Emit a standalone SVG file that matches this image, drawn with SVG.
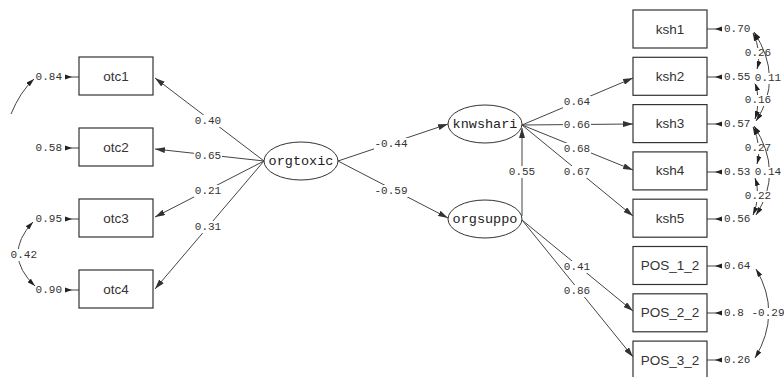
<svg xmlns="http://www.w3.org/2000/svg" width="784" height="377" viewBox="0 0 784 377">
<style>
.box{fill:#fff;stroke:#333;stroke-width:1.2}
.ell{fill:#fff;stroke:#333;stroke-width:1}
.bt{font-family:"Liberation Sans",Arial,sans-serif;font-size:13.5px;fill:#333;text-anchor:middle;dominant-baseline:central}
.et{font-family:"Liberation Mono","Courier New",monospace;font-size:13.5px;fill:#222;text-anchor:middle;dominant-baseline:central}
.num{font-family:"Liberation Mono","Courier New",monospace;font-size:11px;fill:#333;dominant-baseline:central}
.mid{text-anchor:middle}
.end{text-anchor:end}
.p{fill:none;stroke:#444;stroke-width:1}
.c{fill:none;stroke:#444;stroke-width:1}
.bg{fill:#fff}
</style>
<defs>
<marker id="ah" viewBox="0 0 10 6" refX="10" refY="3" markerWidth="10" markerHeight="6" markerUnits="userSpaceOnUse" orient="auto"><path d="M0,0 L10,3 L0,6 z" fill="#333"/></marker>
<marker id="ah2" viewBox="0 0 8 5" refX="8" refY="2.5" markerWidth="8" markerHeight="5" markerUnits="userSpaceOnUse" orient="auto-start-reverse"><path d="M0,0 L8,2.5 L0,5 z" fill="#222"/></marker>
<marker id="ew" viewBox="0 -3 8 6" refX="0" refY="0" markerWidth="8" markerHeight="6" markerUnits="userSpaceOnUse" orient="auto"><path d="M0,-2.5 L7,0 L0,2.5 z" fill="#222"/></marker>
</defs>
<rect width="784" height="377" fill="#fff"/>

<g id="connectors">
  <!-- orgtoxic to otc -->
  <path class="p" d="M264,161 L155,78" marker-end="url(#ah)"/>
  <rect class="bg" x="194" y="115" width="28" height="12"/><text class="num mid" x="208" y="121">0.40</text>
  <path class="p" d="M264,161 L155,149" marker-end="url(#ah)"/>
  <rect class="bg" x="194" y="150" width="28" height="12"/><text class="num mid" x="208" y="156">0.65</text>
  <path class="p" d="M264,161 L155,217" marker-end="url(#ah)"/>
  <rect class="bg" x="194" y="185" width="28" height="12"/><text class="num mid" x="208" y="191">0.21</text>
  <path class="p" d="M264,161 L155,289" marker-end="url(#ah)"/>
  <rect class="bg" x="194" y="221" width="28" height="12"/><text class="num mid" x="208" y="227">0.31</text>

  <!-- structural -->
  <path class="p" d="M338,161 L448,124" marker-end="url(#ah)"/>
  <rect class="bg" x="374" y="138" width="34" height="12"/><text class="num mid" x="391" y="144">-0.44</text>
  <path class="p" d="M338,161 L448,218" marker-end="url(#ah)"/>
  <rect class="bg" x="374" y="185" width="34" height="12"/><text class="num mid" x="391" y="191">-0.59</text>
  <path class="p" d="M522,216 L522,128" marker-end="url(#ah)"/>
  <rect class="bg" x="508" y="166" width="28" height="12"/><text class="num mid" x="522" y="172">0.55</text>

  <!-- knwshari to ksh -->
  <path class="p" d="M522,125 L633,78" marker-end="url(#ah)"/>
  <rect class="bg" x="563" y="96" width="28" height="12"/><text class="num mid" x="577" y="102">0.64</text>
  <path class="p" d="M522,125 L633,124" marker-end="url(#ah)"/>
  <rect class="bg" x="563" y="119" width="28" height="12"/><text class="num mid" x="577" y="125">0.66</text>
  <path class="p" d="M522,125 L633,170" marker-end="url(#ah)"/>
  <rect class="bg" x="563" y="143" width="28" height="12"/><text class="num mid" x="577" y="149">0.68</text>
  <path class="p" d="M522,125 L633,216" marker-end="url(#ah)"/>
  <rect class="bg" x="563" y="166" width="28" height="12"/><text class="num mid" x="577" y="172">0.67</text>

  <!-- orgsuppo to POS -->
  <path class="p" d="M522,220 L633,311" marker-end="url(#ah)"/>
  <rect class="bg" x="563" y="261" width="28" height="12"/><text class="num mid" x="577" y="267">0.41</text>
  <path class="p" d="M522,220 L633,357" marker-end="url(#ah)"/>
  <rect class="bg" x="563" y="285" width="28" height="12"/><text class="num mid" x="577" y="291">0.86</text>

  <!-- left error arrows -->
  <path class="p" d="M65,77 L79,77" marker-start="url(#ew)"/>
  <path class="p" d="M65,148 L79,148" marker-start="url(#ew)"/>
  <path class="p" d="M65,219 L79,219" marker-start="url(#ew)"/>
  <path class="p" d="M65,290 L79,290" marker-start="url(#ew)"/>
  <text class="num end" x="62" y="77">0.84</text>
  <text class="num end" x="62" y="148">0.58</text>
  <text class="num end" x="62" y="219">0.95</text>
  <text class="num end" x="62" y="290">0.90</text>

  <!-- left covariances -->
  <path class="c" d="M11,114 Q20,92 34,79" marker-end="url(#ah2)"/>
  <path class="c" d="M33,222 Q2,255 35,286" marker-start="url(#ah2)" marker-end="url(#ah2)"/>
  <rect class="bg" x="10" y="249" width="28" height="12"/><text class="num end" x="37" y="255">0.42</text>

  <!-- right error arrows -->
  <path class="p" d="M722,29 L707,29" marker-start="url(#ew)"/>
  <path class="p" d="M722,77 L707,77" marker-start="url(#ew)"/>
  <path class="p" d="M722,124 L707,124" marker-start="url(#ew)"/>
  <path class="p" d="M722,172 L707,172" marker-start="url(#ew)"/>
  <path class="p" d="M722,219 L707,219" marker-start="url(#ew)"/>
  <path class="p" d="M722,266 L707,266" marker-start="url(#ew)"/>
  <path class="p" d="M722,313 L707,313" marker-start="url(#ew)"/>
  <path class="p" d="M722,360 L707,360" marker-start="url(#ew)"/>
  <text class="num" x="724" y="29">0.70</text>
  <text class="num" x="724" y="77">0.55</text>
  <text class="num" x="724" y="124">0.57</text>
  <text class="num" x="724" y="172">0.53</text>
  <text class="num" x="724" y="219">0.56</text>
  <text class="num" x="724" y="266">0.64</text>
  <text class="num" x="724" y="313">0.8</text>
  <text class="num" x="724" y="360">0.26</text>

  <!-- right covariances -->
  <path class="c" d="M753,33 Q762,52 757,69" marker-start="url(#ah2)" marker-end="url(#ah2)"/>
  <rect class="bg" x="745" y="48" width="27" height="11"/><text class="num mid" x="758" y="53">0.26</text>
  <path class="c" d="M754,32 Q784,78 756,121" marker-start="url(#ah2)" marker-end="url(#ah2)"/>
  <path class="c" d="M755,83 Q761,100 755,119" marker-start="url(#ah2)" marker-end="url(#ah2)"/>
  <rect class="bg" x="745" y="95" width="27" height="11"/><text class="num mid" x="758" y="100">0.16</text>
  <rect class="bg" x="755" y="73" width="27" height="11"/><text class="num mid" x="768" y="78">0.11</text>

  <path class="c" d="M753,127 Q762,146 757,164" marker-start="url(#ah2)" marker-end="url(#ah2)"/>
  <rect class="bg" x="745" y="143" width="27" height="11"/><text class="num mid" x="758" y="148">0.27</text>
  <path class="c" d="M754,126 Q784,172 756,215" marker-start="url(#ah2)" marker-end="url(#ah2)"/>
  <path class="c" d="M755,178 Q761,196 753,215" marker-start="url(#ah2)" marker-end="url(#ah2)"/>
  <rect class="bg" x="745" y="191" width="27" height="11"/><text class="num mid" x="758" y="196">0.22</text>
  <rect class="bg" x="755" y="167" width="27" height="11"/><text class="num mid" x="768" y="172">0.14</text>

  <path class="c" d="M756,269 Q782,313 755,358" marker-start="url(#ah2)" marker-end="url(#ah2)"/>
  <rect class="bg" x="751" y="308" width="34" height="11"/><text class="num mid" x="768" y="313">-0.29</text>
</g>

<g id="otc1"><rect class="box" x="79" y="57" width="74" height="38"/><text class="bt" x="116" y="76">otc1</text></g>
<g id="otc2"><rect class="box" x="79" y="128" width="74" height="38"/><text class="bt" x="116" y="147">otc2</text></g>
<g id="otc3"><rect class="box" x="79" y="199" width="74" height="38"/><text class="bt" x="116" y="218">otc3</text></g>
<g id="otc4"><rect class="box" x="79" y="270" width="74" height="38"/><text class="bt" x="116" y="289">otc4</text></g>

<g id="orgtoxic"><ellipse class="ell" cx="301" cy="161" rx="37" ry="19"/><text class="et" x="301" y="161">orgtoxic</text></g>
<g id="knwshari"><ellipse class="ell" cx="485" cy="124" rx="37" ry="19"/><text class="et" x="485" y="124">knwshari</text></g>
<g id="orgsuppo"><ellipse class="ell" cx="485" cy="219" rx="37" ry="19"/><text class="et" x="485" y="219">orgsuppo</text></g>

<g id="ksh1"><rect class="box" x="633" y="10" width="74" height="38"/><text class="bt" x="670" y="29">ksh1</text></g>
<g id="ksh2"><rect class="box" x="633" y="57.3" width="74" height="38"/><text class="bt" x="670" y="76.3">ksh2</text></g>
<g id="ksh3"><rect class="box" x="633" y="104.6" width="74" height="38"/><text class="bt" x="670" y="123.6">ksh3</text></g>
<g id="ksh4"><rect class="box" x="633" y="151.9" width="74" height="38"/><text class="bt" x="670" y="170.9">ksh4</text></g>
<g id="ksh5"><rect class="box" x="633" y="199.2" width="74" height="38"/><text class="bt" x="670" y="218.2">ksh5</text></g>
<g id="POS_1_2"><rect class="box" x="633" y="246.5" width="74" height="38"/><text class="bt" x="670" y="265.5">POS_1_2</text></g>
<g id="POS_2_2"><rect class="box" x="633" y="293.8" width="74" height="38"/><text class="bt" x="670" y="312.8">POS_2_2</text></g>
<g id="POS_3_2"><rect class="box" x="633" y="341.1" width="74" height="38"/><text class="bt" x="670" y="360.1">POS_3_2</text></g>
</svg>
